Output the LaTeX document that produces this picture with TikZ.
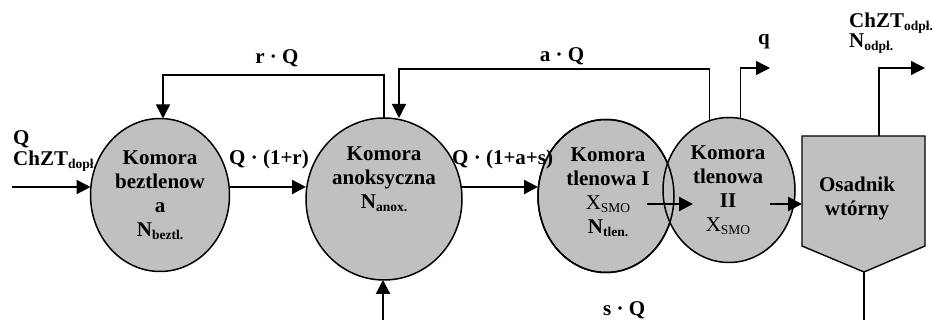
\documentclass[tikz,border=0pt]{standalone}
\usepackage{fontspec}
\setmainfont{Liberation Serif}
\usetikzlibrary{shapes.geometric,arrows.meta}
\definecolor{chgray}{RGB}{192,192,192}
\newcommand\lsub[1]{\raisebox{-3pt}{\fontsize{13.5}{14}\selectfont #1}}
\begin{document}
\begin{tikzpicture}[x=1pt,y=-1pt,
  font=\fontsize{21}{24}\selectfont\bfseries,
  chamber/.style={ellipse, draw=black, line width=1.5pt, fill=chgray, inner sep=0pt, outer sep=0pt},
  outline/.style={draw=black, line width=1.5pt},
  tank/.style={draw=black, line width=1.4pt, fill=chgray},
  txt/.style={align=center, inner sep=0pt, anchor=base},
  lbl/.style={inner sep=0pt},
  tipshape/.style={-{Triangle[length=14pt,width=14pt]}},
  flowline/.style={line width=2.2pt, tipshape},
  thinarrow/.style={line width=1.3pt, tipshape},
  thinline/.style={line width=1.3pt}]
\useasboundingbox (0,0) rectangle (932,320);

% label partly hidden by the first chamber
\node[lbl, anchor=base west] (lq) at (13,145) {Q};
\node[lbl, anchor=base west] (lchzt) at (13,166) {ChZT\lsub{dopł.}};

% chambers
\node[chamber, minimum width=139pt, minimum height=153pt] (c1) at (160,195) {};
\node[chamber, minimum width=156pt, minimum height=162pt] (c2) at (384,199) {};
\node[chamber, minimum width=136pt, minimum height=153pt] (c3) at (606,196) {};
\node[chamber, minimum width=132pt, minimum height=145pt] (c4) at (729,190) {};
\draw[outline] (c3.center) ellipse [x radius=68pt, y radius=76.5pt];

% settler
\node[minimum width=123pt, minimum height=110pt, inner sep=0pt, outer sep=0pt] (os) at (863.5,191) {};
\coordinate (ostip) at (864,272);
\draw[tank] (os.north west) -- (os.north east) -- (os.south east) -- (ostip) -- (os.south west) -- cycle;

% texts in the chambers (base = baseline of the last line)
\node[txt] (t1) at (160,237) {Komora\\beztlenow\\a\\N\lsub{beztl.}};
\node[txt] (t2) at (384,209) {Komora\\anoksyczna\\N\lsub{anox.}};
\node[txt] (t3) at (608,234) {Komora\\tlenowa I\\{\mdseries X\lsub{SMO}}\\N\lsub{tlen.}};
\node[txt] (t4) at (728,232) {Komora\\tlenowa\\II\\{\mdseries X\lsub{SMO}}};
\node[txt] (t5) at (857,216) {Osadnik\\wtórny};

% main flow
\coordinate (in) at (12,187);
\draw[flowline] (in) -- (in -| c1.west);
\draw[flowline] (in -| c1.east) -- (in -| c2.west);
\draw[flowline] (in -| c2.east) -- (in -| c3.west);
\coordinate (m1) at (647,204);
\coordinate (m2) at (693,204);
\draw[flowline] (m1) -- (m2);
\coordinate (m3) at (770,204);
\draw[flowline] (m3) -- (m3 -| os.west);

% recirculations and outlets
\coordinate (rq) at (163,75);
\draw[thinarrow] (c2.north) |- (rq) -- (rq |- c1.north);
\coordinate (aq) at (399,69);
\draw[thinarrow] (c4.106) |- (aq) -- (aq |- c2.north);
\coordinate (qo) at (770,68);
\draw[thinarrow] (c4.81) |- (qo);
\coordinate (oo) at (925,68);
\draw[thinarrow] ([xshift=15.5pt]os.north) |- (oo);
\coordinate (b1) at (383,320);
\draw[flowline] (b1) -- (b1 |- c2.south);
\coordinate (b2) at (864,320);
\draw[thinline] (ostip) -- (b2);

% labels
\node[lbl, anchor=base] (lrq) at (277,64) {r · Q};
\node[lbl, anchor=base west] (lq1r) at (229,165) {Q · (1+r)};
\node[lbl, anchor=base west] (lq1as) at (452,165) {Q · (1+a+s)};
\node[lbl, anchor=base] (laq) at (562,62) {a · Q};
\node[lbl, anchor=base] (lqq) at (764,45) {q};
\node[lbl, anchor=base west] (lo1) at (849,28) {ChZT\lsub{odpł.}};
\node[lbl, anchor=base west] (lo2) at (849,48) {N\lsub{odpł.}};
\node[lbl, anchor=base west] (lsq) at (603,316) {s · Q};
\end{tikzpicture}
\end{document}
